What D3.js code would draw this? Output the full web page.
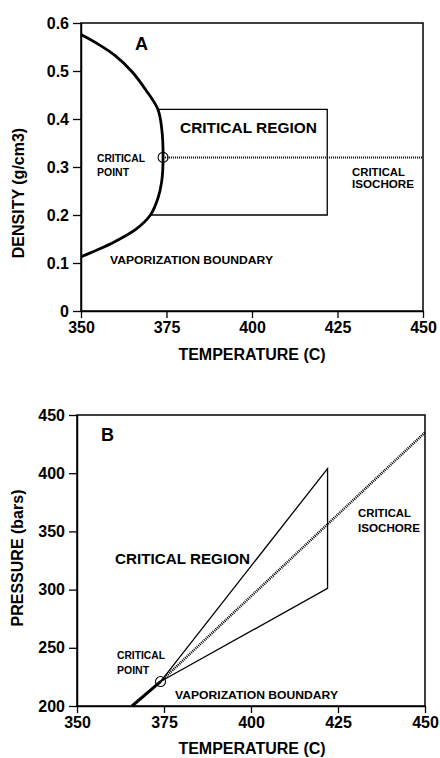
<!DOCTYPE html>
<html>
<head>
<meta charset="utf-8">
<script src="https://cdn.jsdelivr.net/npm/d3@7"></script>
<style>
  body { margin: 0; background: #fff; }
  svg text { font-family: "Liberation Sans", Arial, sans-serif; font-weight: bold; fill: #000; }
</style>
</head>
<body>
<div class="plot"></div>
<script>
// panel A: vaporization boundary (temperature C, density g/cm3)
const boundT = [350, 355, 360, 365, 369, 372.5, 373.6, 374, 373.6, 372.5, 370.3, 366, 360, 355, 350];
const boundD = [0.576, 0.556, 0.532, 0.498, 0.46, 0.42, 0.38, 0.32, 0.27, 0.235, 0.2, 0.17, 0.145, 0.128, 0.113];
// critical point
const critT = 374;
const critD = 0.32;
const critP = 221;
// critical region box in panel A
const regionD = [0.2, 0.42];
const regionT = [372.5, 422, 370.3]; // top-left, right, bottom-left
// panel B: pressure lines (temperature, bars)
const vapT = [365.8, 374];
const vapP = [200, 221];
const upperT = [374, 422];
const upperP = [221, 404];
const lowerT = [374, 422];
const lowerP = [221, 301];
const isoT = [374, 450];
const isoP = [221, 435];

const xTicks = [350, 375, 400, 425, 450];
const densTicks = [0, 0.1, 0.2, 0.3, 0.4, 0.5, 0.6];
const presTicks = [200, 250, 300, 350, 400, 450];

const width = 440;
const height = 758;
const svg = d3.select('.plot')
  .append('svg')
  .attr('width', width)
  .attr('height', height);

function frame(g, x, y, yTicks, yFmt) {
  const [x0, x1] = x.range();
  const [y0, y1] = y.range();
  g.append('rect')
    .attr('x', x0).attr('y', y1)
    .attr('width', x1 - x0).attr('height', y0 - y1)
    .attr('fill', 'none').attr('stroke', '#000').attr('stroke-width', 1.5);
  const ax = g.append('g')
    .attr('transform', `translate(0,${y0})`)
    .call(d3.axisBottom(x).tickValues(xTicks).tickSize(7).tickSizeOuter(0).tickPadding(4));
  const ay = g.append('g')
    .attr('transform', `translate(${x0},0)`)
    .call(d3.axisLeft(y).tickValues(yTicks).tickFormat(yFmt).tickSize(8).tickSizeOuter(0).tickPadding(4));
  [ax, ay].forEach(a => {
    a.select('.domain').attr('stroke-width', 1.5);
    a.selectAll('.tick line').attr('stroke-width', 1.3);
    a.selectAll('.tick text')
      .attr('font-size', 16)
      .attr('font-family', '"Liberation Sans", Arial, sans-serif')
      .attr('font-weight', 'bold')
      .attr('fill', '#000');
  });
}

function label(g, txt, x, y, size, len) {
  const t = g.append('text').attr('x', x).attr('y', y).attr('font-size', size).text(txt);
  if (len) t.attr('textLength', len).attr('lengthAdjust', 'spacingAndGlyphs');
  return t;
}

// ---------- panel A ----------
const xA = d3.scaleLinear().domain([350, 450]).range([81, 423]);
const yA = d3.scaleLinear().domain([0, 0.6]).range([311, 23]);
const gA = svg.append('g');
frame(gA, xA, yA, densTicks, d => d === 0 ? '0' : d3.format('.1f')(d));

gA.append('path')
  .datum(boundT.map((t, i) => [t, boundD[i]]))
  .attr('d', d3.line().x(d => xA(d[0])).y(d => yA(d[1])).curve(d3.curveCatmullRom))
  .attr('fill', 'none').attr('stroke', '#000').attr('stroke-width', 2.8);

gA.append('path')
  .datum([[regionT[0], regionD[1]], [regionT[1], regionD[1]], [regionT[1], regionD[0]], [regionT[2], regionD[0]]])
  .attr('d', d3.line().x(d => xA(d[0])).y(d => yA(d[1])))
  .attr('fill', 'none').attr('stroke', '#000').attr('stroke-width', 1.3);

gA.append('line')
  .attr('x1', xA(critT)).attr('y1', yA(critD))
  .attr('x2', xA(450)).attr('y2', yA(critD))
  .attr('stroke', '#000').attr('stroke-width', 2).attr('stroke-dasharray', '1,1');

gA.append('circle')
  .attr('cx', xA(critT)).attr('cy', yA(critD)).attr('r', 5)
  .attr('fill', 'none').attr('stroke', '#000').attr('stroke-width', 1.1);

label(gA, 'A', 135, 50, 18);
label(gA, 'CRITICAL  REGION', 180, 133, 15, 137);
label(gA, 'CRITICAL', 97, 162, 10.5, 48);
label(gA, 'POINT', 97, 176, 10.5);
label(gA, 'VAPORIZATION  BOUNDARY', 110, 264, 11, 163);
label(gA, 'CRITICAL', 352, 176, 11, 53);
label(gA, 'ISOCHORE', 352, 188, 11, 62);
gA.append('text')
  .attr('x', 252).attr('y', 360).attr('text-anchor', 'middle').attr('font-size', 16)
  .text('TEMPERATURE  (C)');
gA.append('text')
  .attr('transform', 'translate(24,193) rotate(-90)')
  .attr('text-anchor', 'middle').attr('font-size', 16)
  .text('DENSITY  (g/cm3)');

// ---------- panel B ----------
const xB = d3.scaleLinear().domain([350, 450]).range([77, 425]);
const yB = d3.scaleLinear().domain([200, 450]).range([706, 415]);
const gB = svg.append('g');
frame(gB, xB, yB, presTicks, d3.format('d'));

const lineB = d3.line().x(d => xB(d[0])).y(d => yB(d[1]));
gB.append('path')
  .datum(vapT.map((t, i) => [t, vapP[i]]))
  .attr('d', lineB)
  .attr('fill', 'none').attr('stroke', '#000').attr('stroke-width', 3);
gB.append('path')
  .datum([[upperT[0], upperP[0]], [upperT[1], upperP[1]], [lowerT[1], lowerP[1]], [lowerT[0], lowerP[0]]])
  .attr('d', lineB)
  .attr('fill', 'none').attr('stroke', '#000').attr('stroke-width', 1.3);
gB.append('path')
  .datum(isoT.map((t, i) => [t, isoP[i]]))
  .attr('d', lineB)
  .attr('fill', 'none').attr('stroke', '#000').attr('stroke-width', 2.6).attr('stroke-dasharray', '1,1');
gB.append('circle')
  .attr('cx', xB(critT)).attr('cy', yB(critP)).attr('r', 5)
  .attr('fill', 'none').attr('stroke', '#000').attr('stroke-width', 1.1);

label(gB, 'B', 101, 441, 18);
label(gB, 'CRITICAL  REGION', 115, 564, 15, 135);
label(gB, 'CRITICAL', 117, 659, 10.5, 48);
label(gB, 'POINT', 117, 674, 10.5);
label(gB, 'VAPORIZATION  BOUNDARY', 175, 699, 11, 163);
label(gB, 'CRITICAL', 358, 517, 11, 53);
label(gB, 'ISOCHORE', 358, 532, 11, 62);
gB.append('text')
  .attr('x', 252).attr('y', 754).attr('text-anchor', 'middle').attr('font-size', 16)
  .text('TEMPERATURE  (C)');
gB.append('text')
  .attr('transform', 'translate(23,558) rotate(-90)')
  .attr('text-anchor', 'middle').attr('font-size', 16)
  .text('PRESSURE  (bars)');
</script>
</body>
</html>
